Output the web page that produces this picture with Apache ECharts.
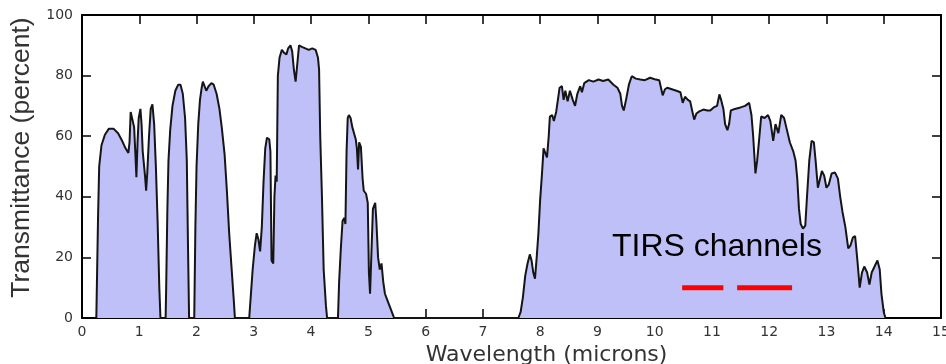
<!DOCTYPE html>
<html><head><meta charset="utf-8">
<script src="https://cdn.jsdelivr.net/npm/echarts@6/dist/echarts.min.js"></script>
<style>html,body{margin:0;padding:0;background:#fff}#c{width:946px;height:364px}</style>
</head><body><div id="c"></div>
<script>
// Atmospheric transmittance (percent) vs wavelength (microns)
const band1 = [[0.25,0],[0.27,0],[0.28,33],[0.30,50],[0.34,57],[0.40,60.5],[0.47,62.5],[0.55,62.5],[0.63,61],[0.70,58.5],[0.76,56],[0.81,54.5],[0.83,58],[0.85,68],[0.88,68.5],[0.91,63],[0.93,55],[0.95,46.5],[0.97,58],[0.99,66],[1.02,69],[1.04,64],[1.06,55],[1.08,55],[1.10,47],[1.12,42],[1.14,48],[1.17,60],[1.20,69],[1.23,70.5],[1.26,64],[1.29,50],[1.32,32],[1.35,10],[1.37,0]];
const band2 = [[1.46,0],[1.47,10],[1.49,35],[1.51,52],[1.54,62],[1.58,70],[1.63,75],[1.68,77],[1.72,77],[1.76,74],[1.80,66],[1.83,52],[1.85,25],[1.87,0]];
const band3 = [[1.96,0],[1.98,30],[2.00,50],[2.03,64],[2.06,72],[2.09,76],[2.11,78],[2.14,76.5],[2.17,75],[2.21,76.5],[2.26,77.5],[2.30,77],[2.35,74],[2.40,69],[2.44,63],[2.49,54],[2.53,42],[2.57,28],[2.61,17],[2.65,6],[2.67,0]];
const band4 = [[2.92,0],[2.95,8],[2.98,16],[3.02,24],[3.05,28],[3.08,26],[3.11,22],[3.14,30],[3.17,45],[3.20,56],[3.23,59.5],[3.27,59],[3.29,55],[3.31,19],[3.34,18],[3.36,40],[3.38,47],[3.40,45],[3.42,80],[3.45,86],[3.49,88.5],[3.53,87.5],[3.57,87],[3.60,89],[3.64,90],[3.67,88],[3.70,82],[3.73,78],[3.76,84],[3.79,90],[3.84,89.5],[3.90,89],[3.96,88.5],[4.02,89],[4.08,88.5],[4.12,86],[4.14,82],[4.16,60],[4.19,40],[4.22,16],[4.26,4],[4.28,0]];
const band5 = [[4.47,0],[4.49,12],[4.52,23],[4.55,32],[4.58,33],[4.60,31],[4.62,55],[4.64,66],[4.66,67],[4.69,66],[4.72,63],[4.75,63],[4.78,59],[4.80,56],[4.82,49],[4.84,58],[4.87,56.5],[4.90,46],[4.92,42],[4.96,41],[4.99,38],[5.01,15],[5.03,8],[5.06,8.5],[5.08,36],[5.12,38],[5.14,32],[5.17,20],[5.20,16],[5.23,18],[5.26,12],[5.29,8],[5.33,6],[5.37,4],[5.41,2],[5.45,0]];
const band6 = [[7.62,0],[7.66,2],[7.70,7],[7.74,14],[7.78,18],[7.82,21],[7.85,19],[7.88,15],[7.91,13],[7.94,20],[7.97,28],[8.00,39],[8.03,47],[8.06,56],[8.09,55.5],[8.12,53],[8.15,60],[8.17,66.5],[8.21,67],[8.24,65],[8.28,68],[8.31,72],[8.34,76],[8.38,76.5],[8.41,72],[8.44,75],[8.48,71.5],[8.52,75],[8.57,72],[8.61,70],[8.65,74],[8.70,76.5],[8.73,74.5],[8.77,77.5],[8.85,78.5],[8.93,78],[9.02,78.7],[9.10,78.2],[9.19,78.7],[9.28,77],[9.35,76],[9.40,74],[9.43,70],[9.46,68.5],[9.50,72],[9.55,77],[9.60,79.8],[9.67,79],[9.75,78.7],[9.83,78.5],[9.92,79.3],[10.0,78.8],[10.08,78.5],[10.11,76],[10.14,73.5],[10.18,75.5],[10.22,76],[10.30,75.5],[10.38,75],[10.45,74.5],[10.49,71],[10.53,73],[10.58,72],[10.62,71.5],[10.66,68],[10.69,65.5],[10.73,67.5],[10.78,68.2],[10.85,68.8],[10.92,68.5],[10.97,68.5],[11.03,69.5],[11.09,70],[11.13,73.8],[11.16,72],[11.20,69],[11.23,64],[11.27,62],[11.30,64],[11.33,68.5],[11.40,69],[11.50,69.5],[11.58,70],[11.65,71],[11.69,67],[11.72,60],[11.76,47.7],[11.79,52],[11.82,58],[11.86,66.5],[11.92,66],[11.98,67],[12.02,65],[12.07,58.5],[12.11,64],[12.16,61],[12.21,67],[12.26,66],[12.31,62],[12.36,58],[12.42,55],[12.46,52],[12.49,46],[12.52,36],[12.55,31],[12.59,29.5],[12.63,30.5],[12.66,40],[12.70,52],[12.74,58.5],[12.78,58],[12.81,52],[12.85,43],[12.88,43.5],[12.92,48.5],[12.96,47],[13.00,43],[13.04,44],[13.09,47.7],[13.15,48],[13.20,46],[13.24,40],[13.28,35],[13.33,30],[13.38,23],[13.42,24],[13.46,26.5],[13.50,27],[13.54,19],[13.58,10],[13.62,15],[13.66,17],[13.71,15],[13.75,11],[13.79,15],[13.84,17],[13.89,19],[13.93,16],[13.96,8],[14.00,2],[14.03,0]];

// TIRS channel extents (microns) and the level where they are marked (percent)
const tirsChannel1 = [10.48, 11.20];
const tirsChannel2 = [11.44, 12.40];
const tirsLevel = 10;

const xTickLabels = ['0','1','2','3','4','5','6','7','8','9','10','11','12','13','14','15'];
const yTickLabels = ['0','20','40','60','80','100'];

const spectrum = [].concat(band1, band2, band3, band4, band5, band6);

const chart = echarts.init(document.getElementById('c'), null, {renderer: 'canvas'});
const frameLine = {show: true, onZero: false, lineStyle: {color: '#000', width: 2}};
const tick = {show: true, inside: true, length: 9, lineStyle: {color: '#000', width: 1.5}};
const labelFont = {color: '#333', fontSize: 14, fontFamily: '"DejaVu Sans", sans-serif'};

chart.setOption({
  animation: false,
  backgroundColor: '#fff',
  grid: {left: 82, right: 5, top: 15, bottom: 46, outerBoundsMode: 'none', containLabel: false},
  xAxis: [{
    type: 'value', min: 0, max: 15, interval: 1, position: 'bottom',
    axisLine: frameLine, axisTick: tick, splitLine: {show: false},
    axisLabel: Object.assign({margin: 7, showMinLabel: true, showMaxLabel: true,
      formatter: v => xTickLabels[Math.round(v)]}, labelFont),
    name: 'Wavelength (microns)', nameLocation: 'middle', nameGap: 21,
    nameTextStyle: {color: '#333', fontSize: 22, fontFamily: '"DejaVu Sans", sans-serif', padding: [0, 0, 0, 70]}
  }, {
    type: 'value', min: 0, max: 15, interval: 1, position: 'top',
    axisLine: frameLine, axisTick: tick, axisLabel: {show: false}, splitLine: {show: false}
  }],
  yAxis: [{
    type: 'value', min: 0, max: 100, interval: 20, position: 'left',
    axisLine: frameLine, axisTick: tick, splitLine: {show: false},
    axisLabel: Object.assign({margin: 9, showMinLabel: true, showMaxLabel: true,
      formatter: v => yTickLabels[Math.round(v / 20)]}, labelFont),
    name: 'Transmittance (percent)', nameLocation: 'middle', nameGap: 40, nameRotate: 90,
    nameTextStyle: {color: '#333', fontSize: 26.5, fontFamily: '"Liberation Sans", Arial, sans-serif', padding: [0, 0, 0, 18]}
  }, {
    type: 'value', min: 0, max: 100, interval: 20, position: 'right',
    axisLine: frameLine, axisTick: tick, axisLabel: {show: false}, splitLine: {show: false}
  }],
  series: [{
    type: 'line', data: spectrum, showSymbol: false, smooth: false,
    lineStyle: {color: '#151515', width: 2},
    areaStyle: {color: '#c0c0f8', opacity: 1, origin: 'start'},
    z: 2
  }, {
    type: 'line', data: [[tirsChannel1[0], tirsLevel], [tirsChannel1[1], tirsLevel]],
    showSymbol: false, lineStyle: {color: '#ff0000', width: 5, cap: 'butt'}, z: 5
  }, {
    type: 'line', data: [[tirsChannel2[0], tirsLevel], [tirsChannel2[1], tirsLevel]],
    showSymbol: false, lineStyle: {color: '#ff0000', width: 5, cap: 'butt'}, z: 5
  }],
  graphic: [{
    type: 'text', left: 612, top: 231, z: 10,
    style: {text: 'TIRS channels', fill: '#000', fontSize: 32, fontFamily: '"Liberation Sans", Arial, sans-serif'}
  }]
});
</script>
</body></html>
